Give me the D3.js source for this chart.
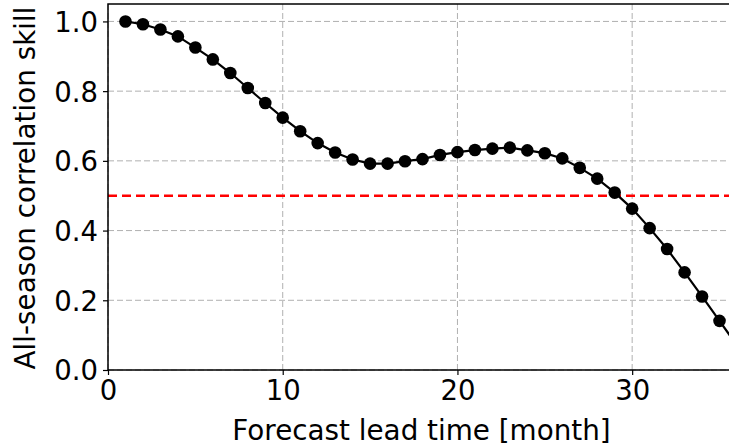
<!DOCTYPE html>
<html>
<head>
<meta charset="utf-8">
<script src="https://cdn.jsdelivr.net/npm/d3@7"></script>
<style>
  body { margin: 0; background: #fff; }
  svg { display: block; font-family: 'DejaVu Sans', sans-serif; }
</style>
</head>
<body>
<svg id="chart"></svg>
<script>
// lead time in months and the skill
var leadMonths = d3.range(1, 37)
var skill = [
  1.0, 0.992, 0.977, 0.957, 0.925, 0.891, 0.852, 0.809, 0.766, 0.724,
  0.685, 0.651, 0.624, 0.604, 0.592, 0.592, 0.599, 0.605, 0.617, 0.625,
  0.631, 0.635, 0.638, 0.630, 0.622, 0.607, 0.580, 0.549, 0.509, 0.463,
  0.407, 0.347, 0.280, 0.211, 0.141, 0.07
]
var threshold = 0.5
var xTicks = [0, 10, 20, 30]
var yTicks = [0, 0.2, 0.4, 0.6, 0.8, 1.0]

var width = 729
var height = 448
var margin = { top: 4, right: -8, bottom: 78, left: 108 }

var data = leadMonths.map((m, i) => ({ lead: m, value: skill[i] }))

var x = d3
  .scaleLinear()
  .domain([0, 36])
  .range([margin.left, width - margin.right])

var y = d3
  .scaleLinear()
  .domain([0, 1.05])
  .range([height - margin.bottom, margin.top])

var svg = d3.select('#chart')
svg.attr('width', width).attr('height', height)

svg
  .append('defs')
  .append('clipPath')
  .attr('id', 'plot-clip')
  .append('rect')
  .attr('x', x(0))
  .attr('y', y(1.05))
  .attr('width', x(36) - x(0))
  .attr('height', y(0) - y(1.05))

// grid
var grid = svg.append('g').attr('class', 'grid')
grid
  .selectAll('line.gx')
  .data(xTicks)
  .enter()
  .append('line')
  .attr('x1', d => x(d))
  .attr('x2', d => x(d))
  .attr('y1', y(0))
  .attr('y2', y(1.05))
  .attr('stroke', '#b0b0b0')
  .attr('stroke-width', 1)
  .attr('stroke-dasharray', '6,3')
grid
  .selectAll('line.gy')
  .data(yTicks)
  .enter()
  .append('line')
  .attr('x1', x(0))
  .attr('x2', x(36))
  .attr('y1', d => y(d))
  .attr('y2', d => y(d))
  .attr('stroke', '#b0b0b0')
  .attr('stroke-width', 1)
  .attr('stroke-dasharray', '6,3')

var plot = svg.append('g').attr('clip-path', 'url(#plot-clip)')

// threshold line
plot
  .append('line')
  .attr('x1', x(0))
  .attr('x2', x(36))
  .attr('y1', y(threshold))
  .attr('y2', y(threshold))
  .attr('stroke', '#ff0000')
  .attr('stroke-width', 2.5)
  .attr('stroke-dasharray', '9,5')

var line = d3
  .line()
  .x(d => x(d.lead))
  .y(d => y(d.value))

plot
  .append('path')
  .datum(data)
  .attr('fill', 'none')
  .attr('stroke', '#000')
  .attr('stroke-width', 2.2)
  .attr('d', line)

plot
  .selectAll('circle')
  .data(data)
  .enter()
  .append('circle')
  .attr('cx', d => x(d.lead))
  .attr('cy', d => y(d.value))
  .attr('r', 6.3)
  .attr('fill', '#000')

// axes
var xAxis = svg
  .append('g')
  .attr('transform', `translate(0,${y(0)})`)
  .call(d3.axisBottom(x).tickValues(xTicks).tickSize(5).tickPadding(5).tickFormat(d3.format('d')))
var yAxis = svg
  .append('g')
  .attr('transform', `translate(${x(0)},0)`)
  .call(d3.axisLeft(y).tickValues(yTicks).tickSize(5).tickPadding(5).tickFormat(d3.format('.1f')))

;[xAxis, yAxis].forEach(g => {
  g.select('.domain').remove()
  g.selectAll('.tick line').attr('stroke', '#000').attr('stroke-width', 1.2)
  g.selectAll('.tick text')
    .attr('fill', '#000')
    .style('font-size', '27.5px')
    .style('font-family', 'DejaVu Sans, sans-serif')
})
xAxis.selectAll('.tick text').attr('dy', '0.72em')
yAxis.selectAll('.tick text').attr('dy', '0.36em')

// spines (left, bottom, top)
svg
  .append('path')
  .attr('d', `M${x(36)},${y(1.05)}H${x(0)}V${y(0)}H${x(36)}`)
  .attr('fill', 'none')
  .attr('stroke', '#000')
  .attr('stroke-width', 1.5)

svg
  .append('text')
  .attr('x', (x(0) + x(36)) / 2 - 1)
  .attr('y', 440)
  .attr('text-anchor', 'middle')
  .style('font-size', '27.8px')
  .text('Forecast lead time [month]')

svg
  .append('text')
  .attr('transform', `translate(35,${(y(0) + y(1.05)) / 2 + 1}) rotate(-90)`)
  .attr('text-anchor', 'middle')
  .style('font-size', '27.8px')
  .text('All-season correlation skill')
</script>
</body>
</html>
